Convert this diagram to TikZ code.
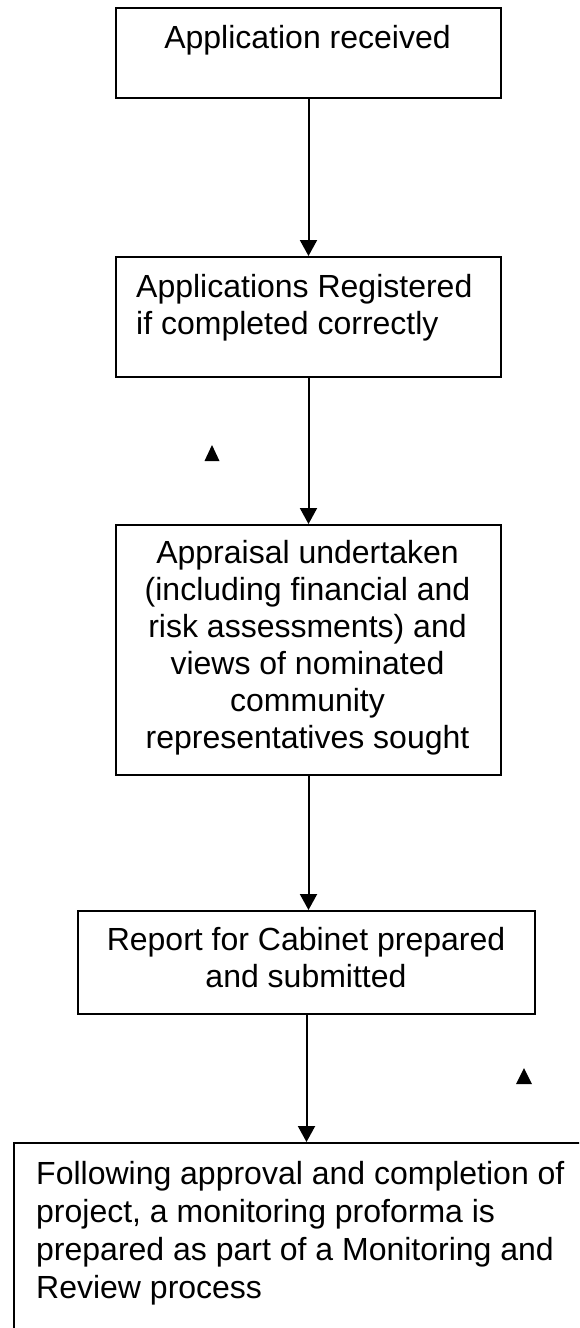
\documentclass[tikz,border=0pt]{standalone}
\usepackage{fontspec}
\setmainfont{Liberation Sans}
\usetikzlibrary{arrows.meta}
\begin{document}
\begin{tikzpicture}[x=1pt,y=-1pt,
  box/.style={draw, line width=2pt, inner sep=0pt, anchor=north west},
  txt/.style={font=\fontsize{32}{37}\selectfont, inner sep=0pt},
  flow/.style={line width=2pt, -{Triangle[width=17pt,length=16pt]}},
  tri/.style={fill=black}
]
\useasboundingbox (0,0) rectangle (579,1328);
\clip (0,0) rectangle (579,1328);
% boxes
\node[box, minimum width=385pt, minimum height=90pt]  (b1) at (115,7) {};
\node[box, minimum width=385pt, minimum height=120pt] (b2) at (115,256) {};
\node[box, minimum width=385pt, minimum height=250pt] (b3) at (115,524) {};
\node[box, minimum width=457pt, minimum height=103pt] (b4) at (77,910) {};
\node[box, minimum width=620pt, minimum height=260pt] (b5) at (13,1142) {};
% texts (base anchor = baseline of the last line)
\node[txt, anchor=base] (t1) at (307.5,48) {Application received};
\node[txt, anchor=base west, align=left] (t2) at (136,334) {Applications Registered\\if completed correctly};
\node[txt, anchor=base, align=center] (t3) at (307.5,748) {Appraisal undertaken\\(including financial and\\risk assessments) and\\views of nominated\\community\\representatives sought};
\node[txt, anchor=base, align=center] (t4) at (306,987) {Report for Cabinet prepared\\and submitted};
\node[txt, anchor=base west, align=left, font=\fontsize{32}{38}\selectfont] (t5) at (36,1298) {Following approval and completion of\\project, a monitoring proforma is\\prepared as part of a Monitoring and\\Review process};
% connectors
\draw[flow] (b1.south) -- (b2.north);
\draw[flow] (b2.south) -- (b3.north);
\draw[flow] (b3.south) -- (b3.south |- b4.north);
\draw[flow] (b4.south) -- (b4.south |- b5.north);
% stray triangle marks
\fill[tri] (204.5,461) -- (219.5,461) -- (212,445) -- cycle;
\fill[tri] (516,1084) -- (532,1084) -- (524,1068) -- cycle;
\end{tikzpicture}
\end{document}
